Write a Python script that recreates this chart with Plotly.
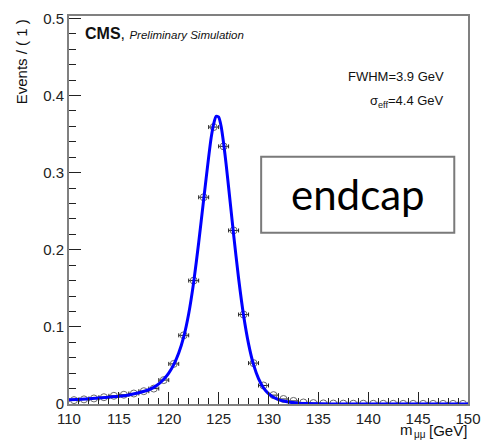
import plotly.graph_objects as go

# Binned simulation (bin centres, GeV) and normalised event counts
bin_centers = [110.5, 111.5, 112.5, 113.5, 114.5, 115.5, 116.5, 117.5, 118.5, 119.5,
               120.5, 121.5, 122.5, 123.5, 124.5, 125.5, 126.5, 127.5, 128.5, 129.5,
               130.5, 131.5, 132.5, 133.5, 134.5, 135.5, 136.5, 137.5, 138.5, 139.5,
               140.5, 141.5, 142.5, 143.5, 144.5, 145.5, 146.5, 147.5, 148.5, 149.5]
events = [0.005, 0.006, 0.0072, 0.0088, 0.0106, 0.012, 0.0136, 0.0166, 0.020, 0.031,
          0.052, 0.089, 0.160, 0.268, 0.359, 0.334, 0.225, 0.116, 0.053, 0.024,
          0.0115, 0.0065, 0.004, 0.002, 0.0012, 0.0008, 0.0006, 0.0005, 0.0004, 0.0004,
          0.0003, 0.0003, 0.0003, 0.0002, 0.0002, 0.0002, 0.0002, 0.0002, 0.0002, 0.0002]
bin_half_width = [0.5] * len(bin_centers)

# Fitted signal shape
fit_x = [110, 112, 114, 115, 116, 117, 118, 118.5, 119, 119.5, 120, 120.5, 121, 121.5,
         122, 122.5, 123, 123.5, 124, 124.25, 124.5, 124.75, 125, 125.25, 125.5, 125.75,
         126, 126.5, 127, 127.5, 128, 128.5, 129, 129.5, 130, 130.5, 131, 131.5, 132,
         133, 134, 135, 137, 140, 150]
fit_y = [0.0055, 0.0068, 0.0088, 0.0100, 0.0118, 0.0145, 0.0185, 0.0215, 0.026, 0.032,
         0.040, 0.051, 0.066, 0.087, 0.117, 0.158, 0.209, 0.265, 0.320, 0.345, 0.363,
         0.373, 0.372, 0.360, 0.338, 0.311, 0.281, 0.220, 0.163, 0.115, 0.078, 0.051,
         0.033, 0.021, 0.0135, 0.0088, 0.0058, 0.0038, 0.0025, 0.0011, 0.0005, 0.0002,
         0.00005, 0.0, 0.0]

x_ticks = [110, 115, 120, 125, 130, 135, 140, 145, 150]
y_ticks = [0, 0.1, 0.2, 0.3, 0.4, 0.5]
y_tick_text = ["0", "0.1", "0.2", "0.3", "0.4", "0.5"]

FONT = "Liberation Sans, Arial, Helvetica, sans-serif"

fig = go.Figure()
fig.add_trace(go.Scatter(
    x=bin_centers, y=events, mode="markers",
    marker=dict(symbol="circle-open", size=7, color="#6a6a6a", line=dict(width=1, color="#6a6a6a")),
    error_x=dict(type="data", array=bin_half_width, symmetric=True, color="#222222", thickness=1, width=2),
    showlegend=False, hoverinfo="x+y"))
fig.add_trace(go.Scatter(
    x=fit_x, y=fit_y, mode="lines", line=dict(color="#0000ff", width=3, shape="spline", smoothing=0.6),
    showlegend=False))

axis_common = dict(showline=True, linecolor="#808080", linewidth=2, mirror=True,
                   ticks="inside", tickcolor="#222222", tickwidth=1, ticklen=12,
                   showgrid=False, zeroline=False,
                   tickfont=dict(family=FONT, size=15, color="#222222"))

fig.update_xaxes(range=[110, 150], tickvals=x_ticks, ticklabelstandoff=0,
                 minor=dict(ticks="inside", dtick=1, ticklen=6, tickcolor="#222222", showgrid=False),
                 **axis_common)
fig.update_yaxes(range=[0, 0.503], tickvals=y_ticks, ticktext=y_tick_text,
                 minor=dict(ticks="inside", dtick=0.02, ticklen=7, tickcolor="#222222", showgrid=False),
                 **axis_common)

annotations = [
    dict(text="<b>CMS</b>, <i><span style='font-size:11.5px'>Preliminary Simulation</span></i>",
         x=0.035, y=0.954, xref="paper", yref="paper", xanchor="left", yanchor="middle",
         showarrow=False, font=dict(family=FONT, size=16, color="#111111")),
    dict(text="FWHM=3.9 GeV", x=0.946, y=0.843, xref="paper", yref="paper",
         xanchor="right", yanchor="middle", showarrow=False,
         font=dict(family=FONT, size=13, color="#111111")),
    dict(text="σ<sub>eff</sub>=4.4 GeV", x=0.946, y=0.779, xref="paper", yref="paper",
         xanchor="right", yanchor="middle", showarrow=False,
         font=dict(family=FONT, size=13, color="#111111")),
    dict(text="endcap", x=0.7236, y=0.540, xref="paper", yref="paper",
         xanchor="center", yanchor="middle", showarrow=False,
         font=dict(family="Lato, Open Sans, sans-serif", size=42, color="#000000")),
    dict(text="Events / ( 1 )", x=-0.12, y=0.881, xref="paper", yref="paper",
         xanchor="center", yanchor="middle", textangle=-90, showarrow=False,
         font=dict(family=FONT, size=15, color="#111111")),
    # x-axis title "m_μμ [GeV]" built from three pieces to keep it compact
    dict(text="[GeV]", x=1.0, y=-0.069, xref="paper", yref="paper",
         xanchor="right", yanchor="middle", showarrow=False, borderpad=0,
         font=dict(family=FONT, size=15, color="#111111")),
    dict(text="μμ", x=0.8966, y=-0.079, xref="paper", yref="paper",
         xanchor="right", yanchor="middle", showarrow=False, borderpad=0,
         font=dict(family=FONT, size=10, color="#111111")),
    dict(text="m", x=0.8635, y=-0.067, xref="paper", yref="paper",
         xanchor="right", yanchor="middle", showarrow=False, borderpad=0,
         font=dict(family=FONT, size=15, color="#111111")),
]

fig.update_layout(
    width=491, height=441,
    margin=dict(l=69, r=15, t=10, b=37),
    paper_bgcolor="white", plot_bgcolor="white",
    annotations=annotations,
    shapes=[dict(type="rect", xref="paper", yref="paper", x0=0.4816, x1=0.9656, y0=0.4416, y1=0.637,
                 line=dict(color="#7a7a7a", width=2), fillcolor="white", layer="above")],
)

fig.write_html("out.html")
